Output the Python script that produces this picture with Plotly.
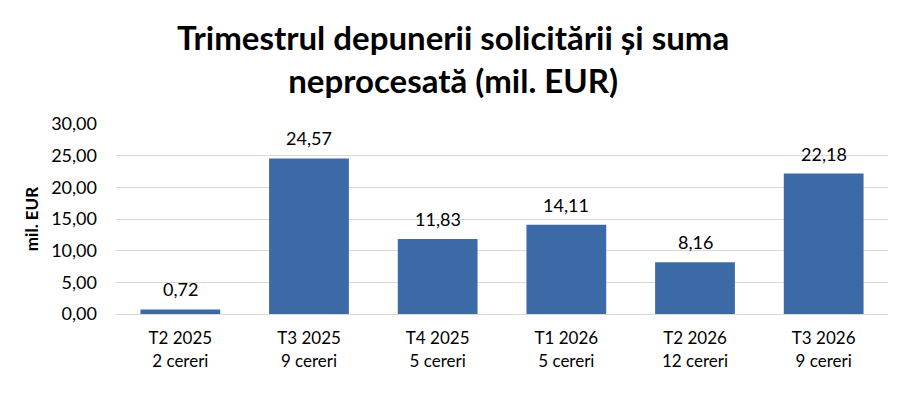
import plotly.graph_objects as go

# Quarterly data: unprocessed amount per submission quarter
quarters = ["T2 2025", "T3 2025", "T4 2025", "T1 2026", "T2 2026", "T3 2026"]
requests = ["2 cereri", "9 cereri", "5 cereri", "5 cereri", "12 cereri", "9 cereri"]
amounts = [0.72, 24.57, 11.83, 14.11, 8.16, 22.18]

labels = [f"{q}<br>{r}" for q, r in zip(quarters, requests)]

fig = go.Figure(
    go.Bar(
        x=labels,
        y=amounts,
        marker=dict(color="#3B6AA6", line=dict(width=0)),
        hovertemplate="%{x}: %{y:.2f}<extra></extra>",
    )
)

# value labels above the bars
for lab, val in zip(labels, amounts):
    fig.add_annotation(
        x=lab, y=val, text=f"{val:.2f}".replace(".", ","),
        showarrow=False, yanchor="middle", yshift=20,
        font=dict(size=18, color="#000000"),
    )

# two-line bold title
fig.add_annotation(
    xref="paper", yref="paper", x=0.437, y=1.0, yshift=66,
    text="<b>Trimestrul depunerii solicitării și suma<br>neprocesată (mil. EUR)</b>",
    showarrow=False, xanchor="center", yanchor="middle",
    font=dict(size=33, color="#000000"),
)

fig.update_layout(
    width=900,
    height=403,
    margin=dict(l=108, r=20, t=116, b=97, autoexpand=False),
    paper_bgcolor="white",
    plot_bgcolor="white",
    separators=",.",
    font=dict(family="Lato, Open Sans, sans-serif", color="#000000"),
    bargap=0.38,
    showlegend=False,
)

fig.update_xaxes(
    showgrid=False,
    showline=True,
    linecolor="#D9D9D9",
    linewidth=1,
    tickfont=dict(size=17),
    ticks="",
    ticklabelstandoff=9,
    automargin=False,
)

fig.update_yaxes(
    range=[0, 30],
    dtick=5,
    tickformat=".2f",
    showgrid=True,
    gridcolor="#D9D9D9",
    gridwidth=1,
    zeroline=False,
    tickfont=dict(size=18),
    ticks="",
    ticklabelstandoff=18,
    automargin=False,
    title=dict(text="<b>mil. EUR</b>", font=dict(size=17), standoff=8),
)

fig.write_html("out.html")
